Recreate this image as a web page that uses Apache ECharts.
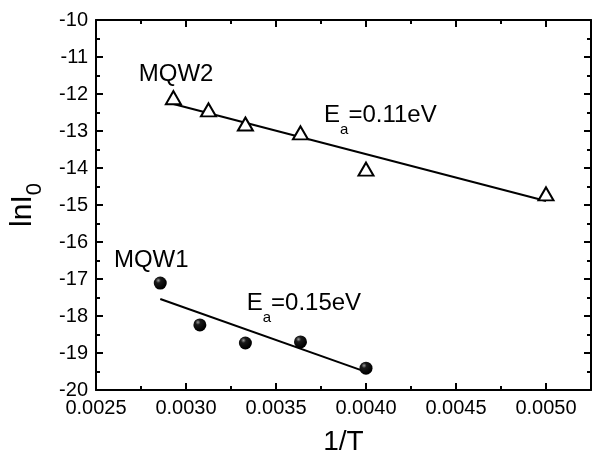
<!DOCTYPE html>
<html>
<head>
<meta charset="utf-8">
<script src="https://cdn.jsdelivr.net/npm/echarts@6/dist/echarts.min.js"></script>
<style>
  html, body { margin: 0; padding: 0; background: #fff; }
  #chart { width: 595px; height: 461px; }
</style>
</head>
<body>
<div id="chart"></div>
<script>
// MQW2 (open triangles)
const mqw2X = [0.00293, 0.003125, 0.00333, 0.003636, 0.0040, 0.0050]
const mqw2Y = [-12.1, -12.43, -12.81, -13.05, -14.03, -14.70]
const mqw2FitX = [0.00293, 0.0050]
const mqw2FitY = [-12.27, -14.89]

// MQW1 (filled balls)
const mqw1X = [0.002857, 0.003077, 0.00333, 0.003636, 0.0040]
const mqw1Y = [-17.11, -18.24, -18.73, -18.70, -19.41]
const mqw1FitX = [0.002857, 0.0040]
const mqw1FitY = [-17.54, -19.51]

// annotations: [x, y, text]
const notes = [
  [0.002945, -11.46, 'MQW2'],
  [0.002807, -16.49, 'MQW1'],
  [0.004080, -12.57, '{n|E}{s|a}{n|=0.11eV}'],
  [0.003655, -17.65, '{n|E}{s|a}{n|=0.15eV}']
]

const font = 'Liberation Sans, Arial, sans-serif'
const chart = echarts.init(document.getElementById('chart'))

const pairs = (xs, ys) => xs.map((x, i) => [x, ys[i]])

const axisCommon = {
  axisLine: { lineStyle: { color: '#000', width: 2 } },
  axisTick: { inside: true, length: 7, lineStyle: { color: '#000', width: 2 } },
  minorTick: { show: true, splitNumber: 2, length: 4, lineStyle: { color: '#000', width: 2 } },
  splitLine: { show: false }
}

const option = {
  animation: false,
  backgroundColor: '#fff',
  grid: { left: 93, right: 4, top: 20, bottom: 71 },
  xAxis: [
    Object.assign({}, axisCommon, {
      type: 'value', position: 'bottom',
      min: 0.0025, max: 0.00525, interval: 0.0005,
      name: '1/T', nameLocation: 'middle', nameGap: 38,
      nameTextStyle: { fontFamily: font, fontSize: 28, color: '#000' },
      axisLabel: {
        color: '#000', fontFamily: font, fontSize: 20, margin: 8,
        showMaxLabel: false,
        formatter: v => v.toFixed(4)
      }
    }),
    Object.assign({}, axisCommon, {
      type: 'value', position: 'top',
      min: 0.0025, max: 0.00525, interval: 0.0005,
      axisLabel: { show: false }
    })
  ],
  yAxis: [
    Object.assign({}, axisCommon, {
      type: 'value', position: 'left',
      min: -20, max: -10, interval: 1,
      name: '{n|lnI}{s|0}', nameLocation: 'middle', nameGap: 58, nameRotate: 90,
      nameTextStyle: {
        rich: {
          n: { fontFamily: font, fontSize: 30, color: '#000' },
          s: { fontFamily: font, fontSize: 22, color: '#000', verticalAlign: 'bottom', padding: [0, 0, -8, 0] }
        }
      },
      axisLabel: { color: '#000', fontFamily: font, fontSize: 20, margin: 8 }
    }),
    Object.assign({}, axisCommon, {
      type: 'value', position: 'right',
      min: -20, max: -10, interval: 1,
      axisLabel: { show: false }
    })
  ],
  series: [
    {
      type: 'line', data: pairs(mqw2FitX, mqw2FitY), symbol: 'none',
      lineStyle: { color: '#000', width: 2 }, z: 2
    },
    {
      type: 'line', data: pairs(mqw1FitX, mqw1FitY), symbol: 'none',
      lineStyle: { color: '#000', width: 2 }, z: 2
    },
    {
      type: 'scatter', data: pairs(mqw2X, mqw2Y), symbol: 'triangle', symbolSize: [15, 13],
      itemStyle: { color: '#fff', borderColor: '#000', borderWidth: 2, opacity: 1 }, z: 3
    },
    {
      type: 'scatter', data: pairs(mqw1X, mqw1Y), symbol: 'circle', symbolSize: 13,
      itemStyle: {
        opacity: 1,
        color: new echarts.graphic.RadialGradient(0.35, 0.3, 0.65, [
          { offset: 0, color: '#999' },
          { offset: 0.3, color: '#1a1a1a' },
          { offset: 1, color: '#000' }
        ])
      }, z: 3
    },
    {
      type: 'scatter', symbolSize: 0, silent: true,
      itemStyle: { opacity: 1 },
      data: notes.map(n => ({ value: [n[0], n[1]], label: { formatter: n[2] } })),
      label: {
        show: true, position: 'inside', color: '#000',
        textBorderWidth: 0,
        fontFamily: font, fontSize: 24,
        rich: {
          n: { fontFamily: font, fontSize: 24, color: '#000', textBorderWidth: 0 },
          s: { fontFamily: font, fontSize: 15, color: '#000', textBorderWidth: 0, verticalAlign: 'bottom', padding: [0, 0, -10, 0] }
        }
      }
    }
  ]
}

chart.setOption(option)
</script>
</body>
</html>
